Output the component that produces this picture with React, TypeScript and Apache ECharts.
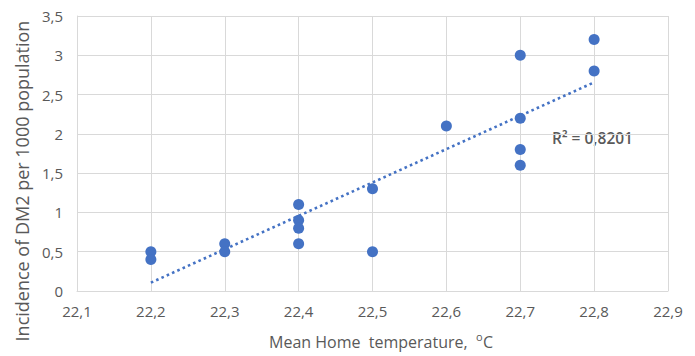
import React, { useEffect, useRef } from "react";
import * as echarts from "echarts";

const temperatures = [22.2, 22.2, 22.3, 22.3, 22.4, 22.4, 22.4, 22.4, 22.5, 22.5, 22.6, 22.7, 22.7, 22.7, 22.7, 22.8, 22.8];
const incidence = [0.5, 0.4, 0.6, 0.5, 1.1, 0.9, 0.8, 0.6, 1.3, 0.5, 2.1, 3.0, 2.2, 1.8, 1.6, 3.2, 2.8];
const rSquaredLabel = "R² = 0,8201";
const xTitle = "Mean Home  temperature,  ";
const xTitleSup = "o";
const xTitleUnit = "C";
const yTitle = "Incidence of DM2 per 1000 population";

const BLUE = "#4472C4";
const TEXT = "#595959";
const FONT = "'Open Sans', 'Liberation Sans', sans-serif";

function regression(xs: number[], ys: number[]) {
  const n = xs.length;
  const mx = xs.reduce((a, b) => a + b, 0) / n;
  const my = ys.reduce((a, b) => a + b, 0) / n;
  let sxx = 0, sxy = 0;
  for (let i = 0; i < n; i++) {
    sxx += (xs[i] - mx) * (xs[i] - mx);
    sxy += (xs[i] - mx) * (ys[i] - my);
  }
  const slope = sxy / sxx;
  return { slope, intercept: my - slope * mx };
}

const comma = (v: number) => String(Math.round(v * 10) / 10).replace(".", ",");

export default function App() {
  const ref = useRef<HTMLDivElement>(null);
  useEffect(() => {
    if (!ref.current) return;
    const chart = echarts.init(ref.current, undefined, { renderer: "svg" });
    const { slope, intercept } = regression(temperatures, incidence);
    const xMin = Math.min(...temperatures);
    const xMax = Math.max(...temperatures);
    const trend = [
      [xMin, intercept + slope * xMin],
      [xMax, intercept + slope * xMax],
    ];
    chart.setOption({
      animation: false,
      backgroundColor: "#ffffff",
      grid: { left: 77, right: 27, top: 16, bottom: 65, outerBoundsMode: "none", containLabel: false },
      xAxis: {
        type: "value",
        min: 22.1,
        max: 22.9,
        interval: 0.1,
        axisLine: { show: true, lineStyle: { color: "#d9d9d9", width: 1 } },
        axisTick: { show: false },
        splitLine: { show: true, lineStyle: { color: "#d9d9d9", width: 1 } },
        axisLabel: { color: TEXT, fontSize: 15, fontFamily: FONT, margin: 12, formatter: comma },
      },
      yAxis: {
        type: "value",
        min: 0,
        max: 3.5,
        interval: 0.5,
        axisLine: { show: true, lineStyle: { color: "#d9d9d9", width: 1 } },
        axisTick: { show: false },
        splitLine: { show: true, lineStyle: { color: "#d9d9d9", width: 1 } },
        axisLabel: { color: TEXT, fontSize: 15, fontFamily: FONT, margin: 14, formatter: comma },
      },
      series: [
        {
          type: "line",
          data: trend,
          showSymbol: false,
          symbol: "none",
          lineStyle: { color: BLUE, width: 2.6, type: [2.6, 3.2] },
          z: 1,
        },
        {
          type: "scatter",
          data: temperatures.map((t, i) => [t, incidence[i]]),
          symbol: "circle",
          symbolSize: 11,
          itemStyle: { color: BLUE, opacity: 1 },
          z: 2,
        },
      ],
      graphic: [
        {
          type: "text",
          left: 552,
          top: 130,
          style: { text: rSquaredLabel, fill: TEXT, fontSize: 15.5, fontFamily: FONT, fontWeight: 600 },
        },
        {
          type: "text",
          x: 476,
          y: 342,
          style: {
            text: xTitle,
            fill: TEXT,
            fontSize: 16,
            fontFamily: FONT,
            align: "right",
            verticalAlign: "middle",
          },
        },
        {
          type: "text",
          x: 476,
          y: 336,
          style: {
            text: xTitleSup,
            fill: TEXT,
            fontSize: 11,
            fontFamily: FONT,
            align: "left",
            verticalAlign: "middle",
          },
        },
        {
          type: "text",
          x: 483,
          y: 342,
          style: {
            text: xTitleUnit,
            fill: TEXT,
            fontSize: 16,
            fontFamily: FONT,
            align: "left",
            verticalAlign: "middle",
          },
        },
        {
          type: "text",
          x: 22,
          y: 181,
          rotation: Math.PI / 2,
          style: {
            text: yTitle,
            fill: TEXT,
            fontSize: 18,
            fontFamily: FONT,
            align: "center",
            verticalAlign: "middle",
          },
        },
      ],
    });
    return () => chart.dispose();
  }, []);
  return (
    <div
      ref={ref}
      style={{ position: "fixed", left: 0, top: 0, width: 695, height: 356 }}
    />
  );
}
